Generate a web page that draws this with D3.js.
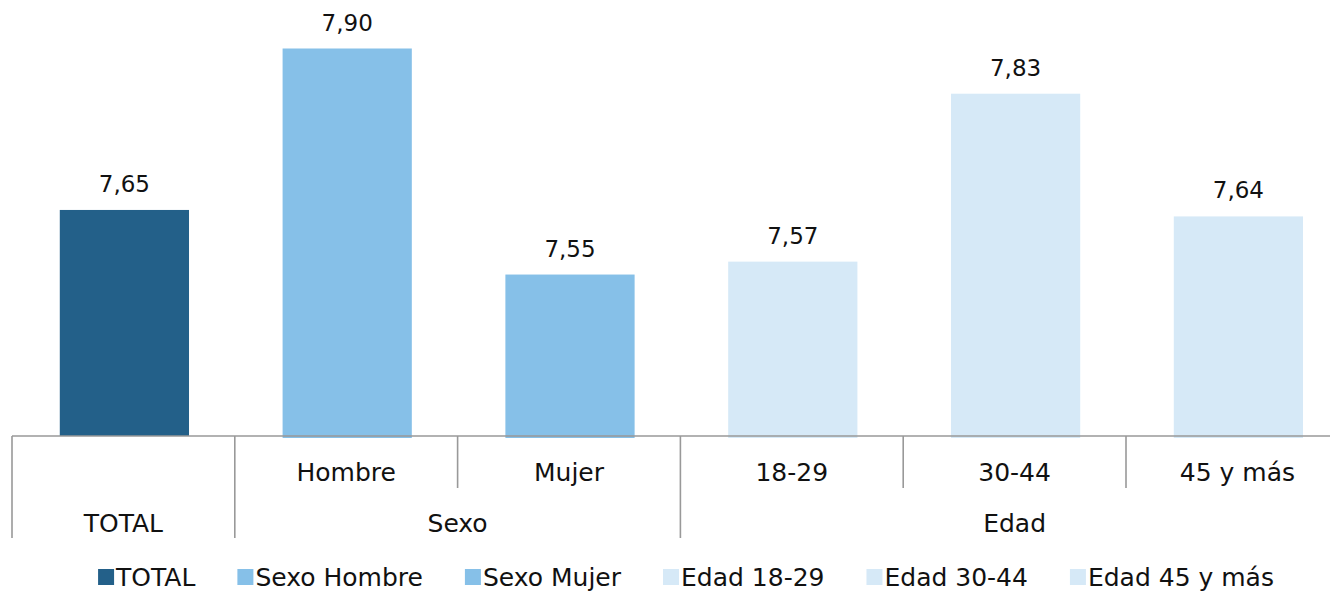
<!DOCTYPE html>
<html>
<head>
<meta charset="utf-8">
<script src="https://cdn.jsdelivr.net/npm/d3@7"></script>
<style>
  html, body { margin: 0; padding: 0; background: #fff; overflow: hidden; }
  text { font-family: "DejaVu Sans", sans-serif; fill: #111; }
</style>
</head>
<body>
<svg id="chart" width="1330" height="594"></svg>
<script>
// ---- Data ----
const seriesNames = ["TOTAL", "Sexo Hombre", "Sexo Mujer", "Edad 18-29", "Edad 30-44", "Edad 45 y más"];
const subLabels   = ["", "Hombre", "Mujer", "18-29", "30-44", "45 y más"];
const groupLabels = ["TOTAL", "Sexo", "Sexo", "Edad", "Edad", "Edad"];
const values      = [7.65, 7.90, 7.55, 7.57, 7.83, 7.64];
const colors      = ["#236089", "#86C0E8", "#86C0E8", "#D6E9F7", "#D6E9F7", "#D6E9F7"];
const valueDomain = [7.3, 7.9];

// ---- Layout ----
const svg = d3.select("#chart");
const left = 12, right = 1348.8, baseY = 436, topY = 48.5;
const inner = 0.42;

const x = d3.scaleBand().domain(seriesNames).range([left, right])
  .paddingInner(inner).paddingOuter(inner / 2);
const y = d3.scaleLinear().domain(valueDomain).range([baseY, topY]);
const color = d3.scaleOrdinal().domain(seriesNames).range(colors);
const fmt = v => d3.format(".2f")(v).replace(".", ",");

const data = seriesNames.map((s, i) => ({ s, v: values[i], sub: subLabels[i], grp: groupLabels[i] }));
const half = (x.step() - x.bandwidth()) / 2;
const catStart = d => x(d) - half;
const catEnd = d => x(d) + x.bandwidth() + half;

// Bars
svg.append("g").selectAll("rect").data(data).join("rect")
  .attr("x", d => x(d.s) + 1)
  .attr("width", x.bandwidth())
  .attr("y", d => y(d.v))
  .attr("height", d => y(valueDomain[0]) - y(d.v) + (d.s === "TOTAL" ? 0 : 2))
  .attr("fill", d => color(d.s));

// Value labels
svg.append("g").selectAll("text").data(data).join("text")
  .attr("x", d => x(d.s) + x.bandwidth() / 2 + 1)
  .attr("y", d => y(d.v) - 18)
  .attr("text-anchor", "middle")
  .attr("font-size", 23)
  .text(d => fmt(d.v));

// Axis line
const axisColor = "#999";
const ax = svg.append("g");
ax.append("line")
  .attr("x1", left).attr("x2", right)
  .attr("y1", baseY).attr("y2", baseY)
  .attr("stroke", axisColor).attr("stroke-width", 1.6);

// Group extents
const groups = [];
data.forEach(d => {
  const last = groups[groups.length - 1];
  if (last && last.name === d.grp) last.end = catEnd(d.s);
  else groups.push({ name: d.grp, start: catStart(d.s), end: catEnd(d.s) });
});
const groupStarts = new Set(groups.map(g => Math.round(g.start)));

const lvl1Y = 488, lvl2Y = 538;
// Dividers between categories (full height at group boundaries)
data.forEach(d => {
  const xs = catStart(d.s);
  const full = groupStarts.has(Math.round(xs));
  ax.append("line")
    .attr("x1", xs).attr("x2", xs)
    .attr("y1", baseY).attr("y2", full ? lvl2Y : lvl1Y)
    .attr("stroke", axisColor).attr("stroke-width", 1.6);
});

// Sub labels
svg.append("g").selectAll("text").data(data.filter(d => d.sub)).join("text")
  .attr("x", d => x(d.s) + x.bandwidth() / 2)
  .attr("y", 481)
  .attr("text-anchor", "middle")
  .attr("font-size", 25)
  .text(d => d.sub);

// Group labels
svg.append("g").selectAll("text").data(groups).join("text")
  .attr("x", g => (g.start + g.end) / 2)
  .attr("y", 532)
  .attr("text-anchor", "middle")
  .attr("font-size", 25)
  .text(g => g.name);

// Legend
const lg = svg.append("g");
const sq = 16, gapText = 2, gapItem = 42, legendY = 569, legendCenter = 686;
const items = seriesNames.map(s => {
  const g = lg.append("g");
  g.append("rect").attr("width", sq).attr("height", sq).attr("y", legendY).attr("fill", color(s));
  const t = g.append("text").attr("x", sq + gapText).attr("y", legendY + 17)
    .attr("font-size", 25).text(s);
  return { g, w: sq + gapText + t.node().getComputedTextLength() };
});
const total = d3.sum(items, d => d.w) + gapItem * (items.length - 1);
let cx = legendCenter - total / 2;
items.forEach(it => { it.g.attr("transform", `translate(${cx},0)`); cx += it.w + gapItem; });
</script>
</body>
</html>
